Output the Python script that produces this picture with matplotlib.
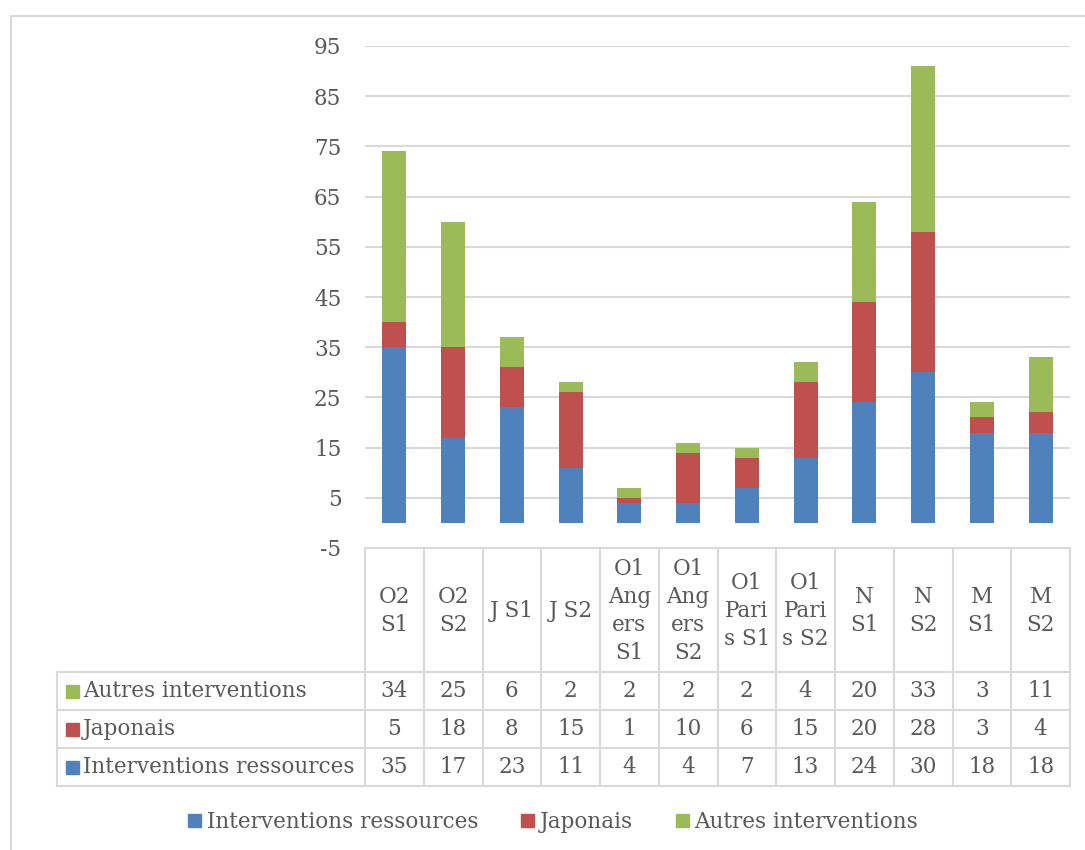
import matplotlib
matplotlib.use("Agg")
import matplotlib.pyplot as plt
from matplotlib.patches import Rectangle
from matplotlib.lines import Line2D
from matplotlib.transforms import blended_transform_factory

plt.rcParams['font.family'] = ['DejaVu Serif']

# données
categories = ["O2\nS1", "O2\nS2", "J S1", "J S2", "O1\nAng\ners\nS1", "O1\nAng\ners\nS2",
              "O1\nPari\ns S1", "O1\nPari\ns S2", "N\nS1", "N\nS2", "M\nS1", "M\nS2"]
interventions = [35, 17, 23, 11, 4, 4, 7, 13, 24, 30, 18, 18]
japonais = [5, 18, 8, 15, 1, 10, 6, 15, 20, 28, 3, 4]
autres = [34, 25, 6, 2, 2, 2, 2, 4, 20, 33, 3, 11]
yticks = list(range(-5, 96, 10))

c_blue, c_red, c_green = '#4F81BD', '#C0504D', '#9BBB59'
grid_c = '#d9d9d9'
txt_c = '#595959'
fs = 15.5

W, H = 1085, 850
def fx(px): return px / W
def fy(py): return 1 - py / H

fig = plt.figure(figsize=(W / 100, H / 100), dpi=100)

# cadre du graphique
fig.patches.append(Rectangle((fx(11), fy(900)), fx(1100) - fx(11), (900 - 16) / H,
                             transform=fig.transFigure, fill=False, ec=grid_c, lw=1.5))

ax = fig.add_axes([fx(365), fy(548), fx(1070) - fx(365), (548 - 46) / H])
x = list(range(len(categories)))
bot2 = [a + b for a, b in zip(interventions, japonais)]
ax.bar(x, interventions, width=0.41, color=c_blue, zorder=3)
ax.bar(x, japonais, width=0.41, bottom=interventions, color=c_red, zorder=3)
ax.bar(x, autres, width=0.41, bottom=bot2, color=c_green, zorder=3)
ax.set_xlim(-0.5, len(categories) - 0.5)
ax.set_ylim(-5, 95)
ax.set_yticks(yticks)
ax.set_yticklabels([str(v) for v in yticks], fontsize=fs, color=txt_c)
ax.tick_params(axis='y', length=0, pad=17)
ax.set_xticks([])
for s in ax.spines.values():
    s.set_visible(False)
for v in yticks[1:]:
    ax.axhline(v, color=grid_c, lw=1.5, zorder=1)

# tableau de données
tr = blended_transform_factory(ax.transData, fig.transFigure)
lk = dict(color=grid_c, lw=1.5, clip_on=False)
# lignes horizontales
fig.add_artist(Line2D([fx(365), fx(1070)], [fy(548)] * 2, transform=fig.transFigure, **lk))
for py in [672, 710, 748, 786]:
    fig.add_artist(Line2D([fx(57), fx(1070)], [fy(py)] * 2, transform=fig.transFigure, **lk))
# lignes verticales
for i in range(len(categories) + 1):
    fig.add_artist(Line2D([i - 0.5, i - 0.5], [fy(548), fy(786)], transform=tr, **lk))
fig.add_artist(Line2D([fx(57), fx(57)], [fy(672), fy(786)], transform=fig.transFigure, **lk))

for i, cat in enumerate(categories):
    fig.text(i, fy(611), cat, transform=tr, ha='center', va='center', fontsize=fs,
             color=txt_c, linespacing=1.35)

rows = [("Autres interventions", autres, c_green, 691),
        ("Japonais", japonais, c_red, 729),
        ("Interventions ressources", interventions, c_blue, 767)]
for name, vals, col, py in rows:
    fig.patches.append(Rectangle((fx(66), fy(py + 6.5)), 13 / W, 13 / H,
                                 transform=fig.transFigure, color=col))
    fig.text(fx(83), fy(py), name, ha='left', va='center', fontsize=fs, color=txt_c)
    for i, v in enumerate(vals):
        fig.text(i, fy(py), str(v), transform=tr, ha='center', va='center',
                 fontsize=fs, color=txt_c)

# légende
handles = [Rectangle((0, 0), 1, 1, color=c) for c in (c_blue, c_red, c_green)]
fig.legend(handles, ["Interventions ressources", "Japonais", "Autres interventions"],
           loc='center', bbox_to_anchor=(fx(553), fy(822)), ncol=3, frameon=False,
           fontsize=fs, labelcolor=txt_c, handlelength=0.6, handleheight=0.6,
           handletextpad=0.25, columnspacing=2.0)

fig.savefig("out.png", dpi=100)
